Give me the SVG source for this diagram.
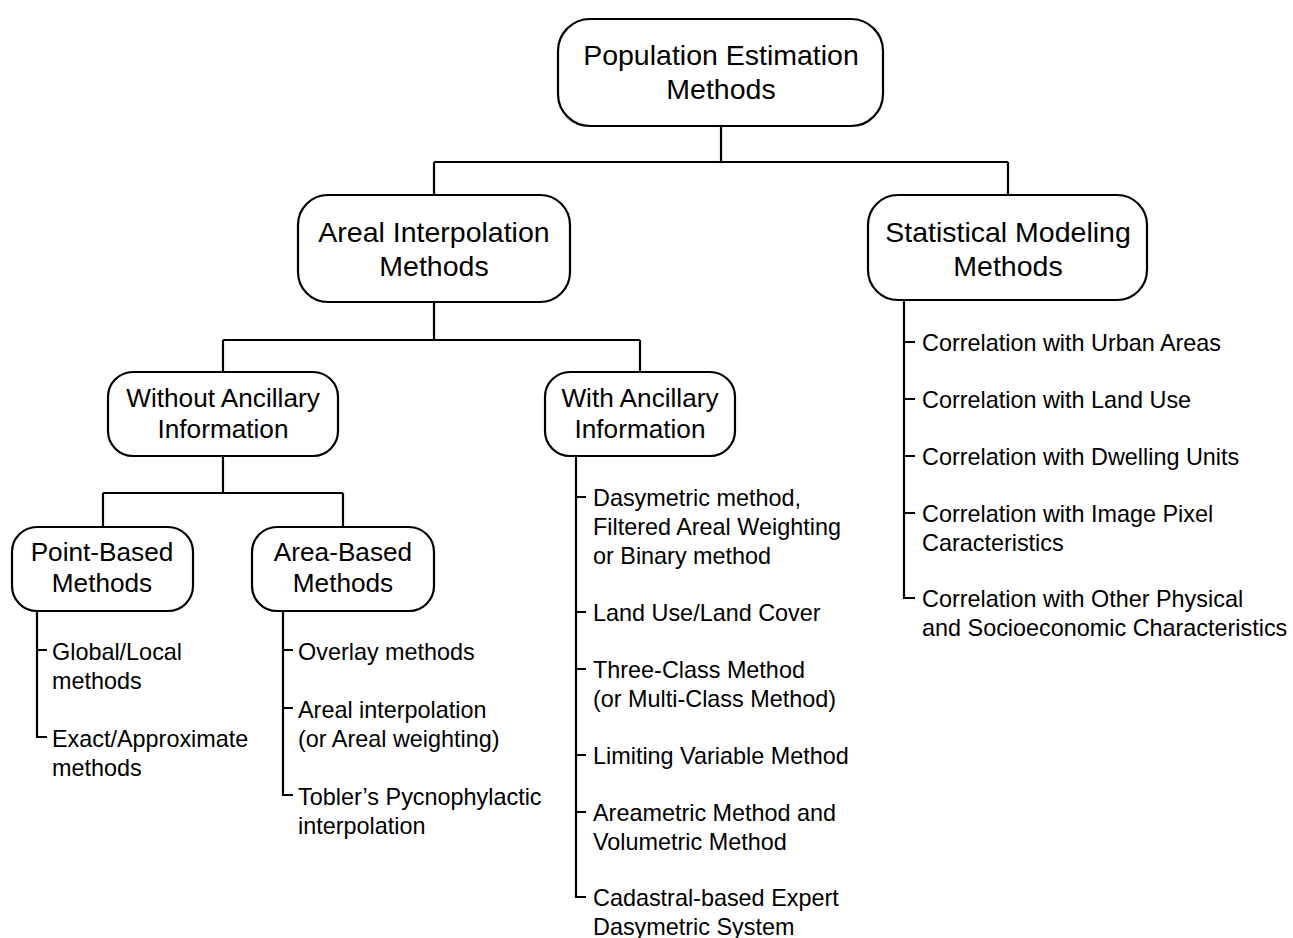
<svg xmlns="http://www.w3.org/2000/svg" width="1293" height="938" viewBox="0 0 1293 938">
<style>
.box{fill:#fff;stroke:#000;stroke-width:2.2}
.t1{font-family:"Liberation Sans",Arial,sans-serif;font-size:28.5px;fill:#000;text-anchor:middle}
.t2{font-family:"Liberation Sans",Arial,sans-serif;font-size:26.2px;fill:#000;text-anchor:middle}
.t3{font-family:"Liberation Sans",Arial,sans-serif;font-size:23.4px;fill:#000}
.c{fill:none;stroke:#000;stroke-width:2.2}
</style>
<rect width="1293" height="938" fill="#fff"/>
<g id="connectors">
<path class="c" d="M721,126V162M434,162H1008M434,162V195M1008,162V195"/>
<path class="c" d="M434,302V340M223,340H640M223,340V372M640,340V372"/>
<path class="c" d="M223,456V493M103,493H343M103,493V527M343,493V527"/>
<path class="c" d="M37,611V737H47M37,650H47"/>
<path class="c" d="M283,611V795H293M283,650H293M283,708H293"/>
<path class="c" d="M576,456V897H586M576,497H586M576,612H586M576,669H586M576,755H586M576,812H586"/>
<path class="c" d="M904,300V598H915M904,342H915M904,399H915M904,456H915M904,513H915"/>
</g>
<g id="n-root">
<rect class="box" x="558" y="19" width="325" height="107" rx="32"/>
<text class="t1" x="721" y="65">Population Estimation</text>
<text class="t1" x="721" y="99">Methods</text>
</g>
<g id="n-areal">
<rect class="box" x="298" y="195" width="272" height="107" rx="30"/>
<text class="t1" x="434" y="242">Areal Interpolation</text>
<text class="t1" x="434" y="276">Methods</text>
</g>
<g id="n-stat">
<rect class="box" x="868" y="195" width="279" height="105" rx="30"/>
<text class="t1" x="1008" y="242">Statistical Modeling</text>
<text class="t1" x="1008" y="276">Methods</text>
</g>
<g id="n-without">
<rect class="box" x="108" y="372" width="230" height="84" rx="25"/>
<text class="t2" x="223" y="407">Without Ancillary</text>
<text class="t2" x="223" y="438">Information</text>
</g>
<g id="n-with">
<rect class="box" x="545" y="372" width="190" height="84" rx="25"/>
<text class="t2" x="640" y="407">With Ancillary</text>
<text class="t2" x="640" y="438">Information</text>
</g>
<g id="n-point">
<rect class="box" x="12" y="527" width="181" height="84" rx="25"/>
<text class="t2" x="102" y="561">Point-Based</text>
<text class="t2" x="102" y="592">Methods</text>
</g>
<g id="n-area">
<rect class="box" x="252" y="527" width="182" height="84" rx="25"/>
<text class="t2" x="343" y="561">Area-Based</text>
<text class="t2" x="343" y="592">Methods</text>
</g>
<g id="l-point">
<text class="t3" x="52" y="660">Global/Local</text>
<text class="t3" x="52" y="689">methods</text>
<text class="t3" x="52" y="747">Exact/Approximate</text>
<text class="t3" x="52" y="776">methods</text>
</g>
<g id="l-area">
<text class="t3" x="298" y="660">Overlay methods</text>
<text class="t3" x="298" y="718">Areal interpolation</text>
<text class="t3" x="298" y="747">(or Areal weighting)</text>
<text class="t3" x="298" y="805">Tobler’s Pycnophylactic</text>
<text class="t3" x="298" y="834">interpolation</text>
</g>
<g id="l-with">
<text class="t3" x="593" y="506">Dasymetric method,</text>
<text class="t3" x="593" y="535">Filtered Areal Weighting</text>
<text class="t3" x="593" y="564">or Binary method</text>
<text class="t3" x="593" y="621">Land Use/Land Cover</text>
<text class="t3" x="593" y="678">Three-Class Method</text>
<text class="t3" x="593" y="707">(or Multi-Class Method)</text>
<text class="t3" x="593" y="764">Limiting Variable Method</text>
<text class="t3" x="593" y="821">Areametric Method and</text>
<text class="t3" x="593" y="850">Volumetric Method</text>
<text class="t3" x="593" y="906">Cadastral-based Expert</text>
<text class="t3" x="593" y="935">Dasymetric System</text>
</g>
<g id="l-stat">
<text class="t3" x="922" y="351">Correlation with Urban Areas</text>
<text class="t3" x="922" y="408">Correlation with Land Use</text>
<text class="t3" x="922" y="465">Correlation with Dwelling Units</text>
<text class="t3" x="922" y="522">Correlation with Image Pixel</text>
<text class="t3" x="922" y="551">Caracteristics</text>
<text class="t3" x="922" y="607">Correlation with Other Physical</text>
<text class="t3" x="922" y="636">and Socioeconomic Characteristics</text>
</g>
</svg>
